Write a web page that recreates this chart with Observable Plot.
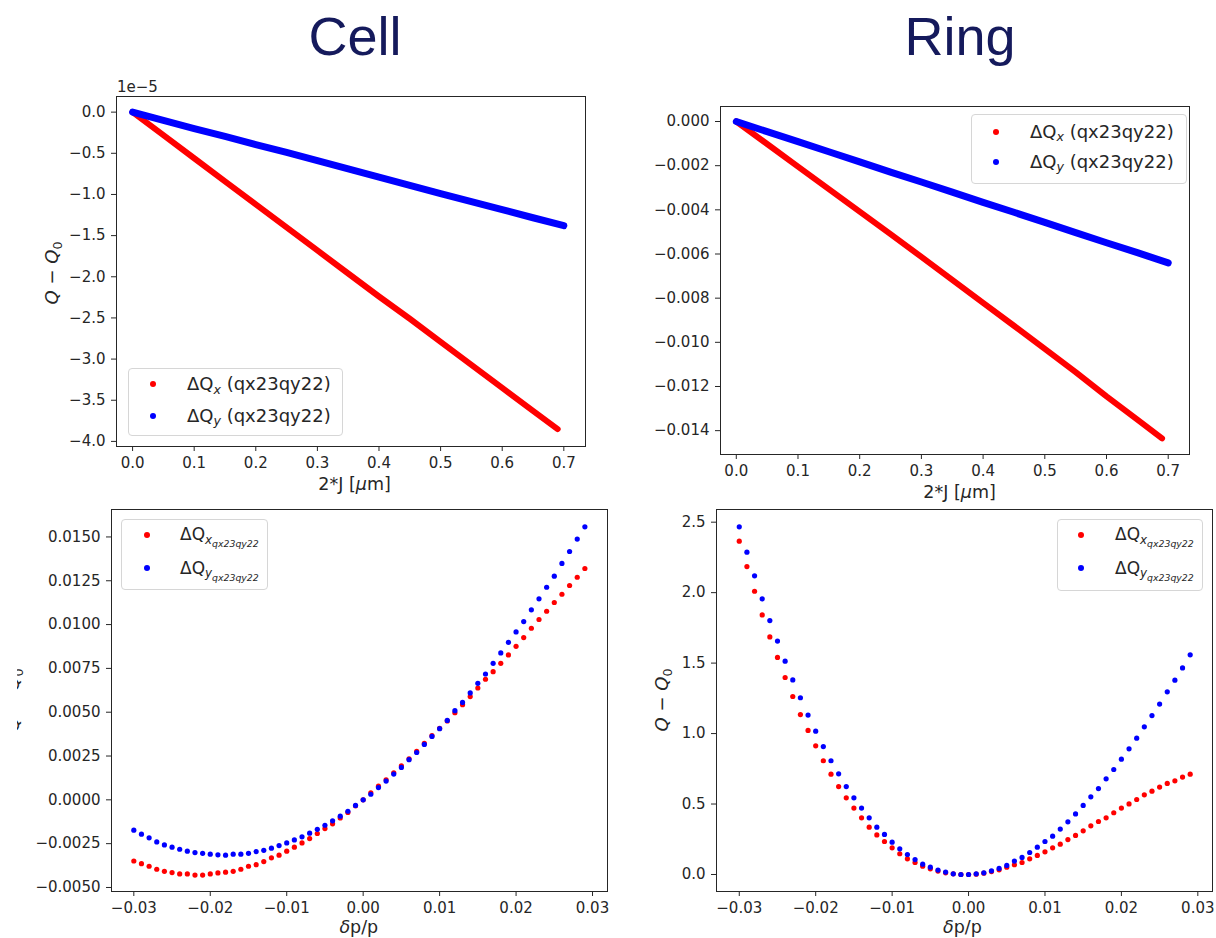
<!DOCTYPE html>
<html><head><meta charset="utf-8">
<script src="https://cdn.jsdelivr.net/npm/d3@7"></script>
<script src="https://cdn.jsdelivr.net/npm/@observablehq/plot@0.6"></script>
<style>
body{margin:0;background:#fff;}
#root{position:relative;width:1216px;height:938px;overflow:hidden;background:#fff;font-family:"DejaVu Sans",sans-serif;color:#262626;}
.panel{position:absolute;}
.panel svg{overflow:visible;background:transparent;}
.panel svg text{font-family:"DejaVu Sans",sans-serif;font-size:15px;fill:#262626;}
.t{position:absolute;white-space:nowrap;line-height:1;}
.c{transform:translate(-50%,-50%);}
.title{font-family:"Liberation Sans",Arial,sans-serif;font-size:54px;color:#151a5c;transform:translateX(-50%);}
.lab{font-size:17.5px;}
.ylab{transform:translate(-50%,-50%) rotate(-90deg);font-size:18px;}
.legend{position:absolute;border:1px solid #d6d6d6;border-radius:4px;background:rgba(255,255,255,0.85);box-sizing:border-box;}
.entry{position:absolute;white-space:nowrap;line-height:1;}
.dot{position:absolute;width:6px;height:6px;border-radius:50%;transform:translate(-50%,-50%);}
.s1{position:relative;top:0.3em;font-size:0.7em;font-style:italic;}
.s2{position:relative;top:0.75em;font-size:0.55em;font-style:italic;}
.clip{position:absolute;overflow:hidden;}
</style>
</head><body><div id="root"></div>
<script>
// ---------- data ----------
// Amplitude detuning, Cell (values in units of 1e-5)
const cellAmpJx = [0,0.05,0.1,0.15,0.2,0.25,0.3,0.35,0.4,0.45,0.5,0.55,0.6,0.65,0.69];
const cellAmpQx = [0,-0.28,-0.56,-0.84,-1.12,-1.40,-1.68,-1.96,-2.24,-2.51,-2.79,-3.07,-3.35,-3.63,-3.85];
const cellAmpJy = [0,0.05,0.1,0.15,0.2,0.25,0.3,0.35,0.4,0.45,0.5,0.55,0.6,0.65,0.7];
const cellAmpQy = [0,-0.10,-0.20,-0.295,-0.394,-0.49,-0.59,-0.69,-0.79,-0.89,-0.99,-1.087,-1.185,-1.283,-1.38];
// Amplitude detuning, Ring
const ringAmpJx = [0,0.05,0.1,0.15,0.2,0.25,0.3,0.35,0.4,0.45,0.5,0.55,0.6,0.65,0.69];
const ringAmpQx = [0,-0.00102,-0.00204,-0.00306,-0.00408,-0.0051,-0.00613,-0.00717,-0.00821,-0.00925,-0.0103,-0.01135,-0.01245,-0.0135,-0.01435];
const ringAmpJy = [0,0.05,0.1,0.15,0.2,0.25,0.3,0.35,0.4,0.45,0.5,0.55,0.6,0.65,0.7];
const ringAmpQy = [0,-0.00046,-0.00091,-0.00137,-0.00183,-0.00229,-0.00274,-0.0032,-0.00366,-0.00411,-0.00457,-0.00503,-0.00549,-0.00594,-0.0064];
// Chromatic detuning: momentum offsets
const dpp = [-0.030,-0.029,-0.028,-0.027,-0.026,-0.025,-0.024,-0.023,-0.022,-0.021,
  -0.020,-0.019,-0.018,-0.017,-0.016,-0.015,-0.014,-0.013,-0.012,-0.011,
  -0.010,-0.009,-0.008,-0.007,-0.006,-0.005,-0.004,-0.003,-0.002,-0.001,
  0.000,0.001,0.002,0.003,0.004,0.005,0.006,0.007,0.008,0.009,
  0.010,0.011,0.012,0.013,0.014,0.015,0.016,0.017,0.018,0.019,
  0.020,0.021,0.022,0.023,0.024,0.025,0.026,0.027,0.028,0.029];
const cellChromQx = [-0.00349,-0.00364,-0.00379,-0.00396,-0.00408,-0.00415,-0.00423,-0.00423,-0.00429,-0.00429,
  -0.00423,-0.00417,-0.00413,-0.00408,-0.00396,-0.00379,-0.00370,-0.00352,-0.00331,-0.00316,
  -0.00293,-0.00270,-0.00246,-0.00221,-0.00192,-0.00164,-0.00137,-0.00103,-0.00072,-0.00034,
  0,0.00040,0.00078,0.00114,0.00154,0.00194,0.00234,0.00276,0.00322,0.00366,
  0.00408,0.00450,0.00497,0.00543,0.00589,0.00638,0.00688,0.00731,0.00779,0.00827,
  0.00876,0.00926,0.00979,0.01029,0.01076,0.01126,0.01173,0.01223,0.01270,0.01320];
const cellChromQy = [-0.00173,-0.00196,-0.00217,-0.00240,-0.00257,-0.00270,-0.00282,-0.00293,-0.00301,-0.00305,
  -0.00310,-0.00314,-0.00316,-0.00310,-0.00310,-0.00305,-0.00295,-0.00288,-0.00276,-0.00261,
  -0.00246,-0.00229,-0.00211,-0.00190,-0.00168,-0.00145,-0.00120,-0.00093,-0.00065,-0.00032,
  0,0.00032,0.00070,0.00107,0.00147,0.00185,0.00229,0.00270,0.00316,0.00362,
  0.00406,0.00453,0.00509,0.00556,0.00610,0.00665,0.00718,0.00779,0.00838,0.00899,
  0.00958,0.01017,0.01084,0.01147,0.01213,0.01276,0.01349,0.01417,0.01488,0.01558];
const ringChromQx = [2.365,2.185,2.010,1.842,1.686,1.540,1.398,1.263,1.135,1.022,
  0.913,0.807,0.712,0.624,0.544,0.471,0.402,0.336,0.281,0.234,
  0.189,0.147,0.111,0.085,0.059,0.040,0.024,0.012,0.005,0.000,
  0.000,0.002,0.009,0.021,0.033,0.052,0.069,0.085,0.111,0.135,
  0.161,0.189,0.215,0.248,0.277,0.310,0.345,0.376,0.402,0.438,
  0.471,0.501,0.532,0.565,0.591,0.620,0.646,0.665,0.691,0.712];
const ringChromQy = [2.467,2.287,2.119,1.956,1.802,1.656,1.514,1.381,1.254,1.131,
  1.017,0.908,0.807,0.714,0.624,0.544,0.471,0.402,0.336,0.284,
  0.229,0.182,0.142,0.106,0.073,0.052,0.031,0.017,0.005,0.000,
  0.000,0.005,0.012,0.026,0.043,0.064,0.095,0.121,0.156,0.194,
  0.234,0.272,0.322,0.374,0.430,0.490,0.551,0.610,0.679,0.745,
  0.818,0.892,0.967,1.048,1.128,1.209,1.296,1.379,1.466,1.559];
// Tick values
const ampXTicks = [0,0.1,0.2,0.3,0.4,0.5,0.6,0.7];
const cellAmpYTicks = [0,-0.5,-1.0,-1.5,-2.0,-2.5,-3.0,-3.5,-4.0];
const ringAmpYTicks = [0,-0.002,-0.004,-0.006,-0.008,-0.010,-0.012,-0.014];
const chromXTicks = [-0.03,-0.02,-0.01,0,0.01,0.02,0.03];
const cellChromYTicks = [-0.005,-0.0025,0,0.0025,0.005,0.0075,0.01,0.0125,0.015];
const ringChromYTicks = [0,0.5,1.0,1.5,2.0,2.5];

const RED = "#ff0000", BLUE = "#0000ff";
const root = document.getElementById("root");

function zip(xs, ys){ return xs.map((x,i)=>({x, y: ys[i]})); }

function panel(box, m, xs, ys, marks){
  const svg = Plot.plot({
    width: box.w, height: box.h,
    marginLeft: m[0], marginRight: m[1], marginTop: m[2], marginBottom: m[3],
    style: {background: "transparent", color: "#262626", fontFamily: "DejaVu Sans", fontSize: "15px", overflow: "visible"},
    x: Object.assign({label: null, tickSize: 5, tickPadding: 6}, xs),
    y: Object.assign({label: null, tickSize: 5, tickPadding: 6}, ys),
    marks: [Plot.frame({stroke: "#262626", strokeWidth: 1}), ...marks]
  });
  const d = document.createElement("div");
  d.className = "panel";
  d.style.left = box.l + "px"; d.style.top = box.t + "px";
  d.appendChild(svg);
  root.appendChild(d);
}

// Top-left: Cell amplitude detuning
panel({l:0,t:70,w:600,h:430},[116,15,26,54],
  {domain:[-0.0261,0.7352], ticks: ampXTicks, tickFormat: d3.format(".1f")},
  {domain:[-4.062,0.19], ticks: cellAmpYTicks, tickFormat: d3.format(".1f")},
  [Plot.line(zip(cellAmpJx,cellAmpQx),{x:"x",y:"y",stroke:RED,strokeWidth:6,strokeLinecap:"round",strokeLinejoin:"round"}),
   Plot.line(zip(cellAmpJy,cellAmpQy),{x:"x",y:"y",stroke:BLUE,strokeWidth:7,strokeLinecap:"round",strokeLinejoin:"round"})]);

// Top-right: Ring amplitude detuning
panel({l:600,t:90,w:616,h:418},[120,27,16,54],
  {domain:[-0.0256,0.7345], ticks: ampXTicks, tickFormat: d3.format(".1f")},
  {domain:[-0.01508,0.00068], ticks: ringAmpYTicks, tickFormat: d3.format(".3f")},
  [Plot.line(zip(ringAmpJx,ringAmpQx),{x:"x",y:"y",stroke:RED,strokeWidth:6,strokeLinecap:"round",strokeLinejoin:"round"}),
   Plot.line(zip(ringAmpJy,ringAmpQy),{x:"x",y:"y",stroke:BLUE,strokeWidth:7,strokeLinecap:"round",strokeLinejoin:"round"})]);

// Bottom-left: Cell chromatic detuning
panel({l:0,t:500,w:612,h:438},[111,5,9,47],
  {domain:[-0.03292,0.03196], ticks: chromXTicks, tickFormat: d3.format(".2f")},
  {domain:[-0.00523,0.016566], ticks: cellChromYTicks, tickFormat: d3.format(".4f")},
  [Plot.dot(zip(dpp,cellChromQx),{x:"x",y:"y",r:2.6,fill:RED}),
   Plot.dot(zip(dpp,cellChromQy),{x:"x",y:"y",r:2.6,fill:BLUE})]);

// Bottom-right: Ring chromatic detuning
panel({l:612,t:500,w:604,h:438},[104,4,9,47],
  {domain:[-0.03298,0.03192], ticks: chromXTicks, tickFormat: d3.format(".2f")},
  {domain:[-0.1207,2.590], ticks: ringChromYTicks, tickFormat: d3.format(".1f")},
  [Plot.dot(zip(dpp,ringChromQx),{x:"x",y:"y",r:2.6,fill:RED}),
   Plot.dot(zip(dpp,ringChromQy),{x:"x",y:"y",r:2.6,fill:BLUE})]);

// ---------- text ----------
function add(html, cls, x, y, extra){
  const d = document.createElement("div");
  d.className = "t " + cls;
  d.style.left = x + "px"; d.style.top = y + "px";
  if (extra) Object.assign(d.style, extra);
  d.innerHTML = html;
  root.appendChild(d);
  return d;
}
add("Cell", "title", 355, 9);
add("Ring", "title", 960, 9);
add("1e\u22125", "", 117, 80, {fontSize:"15px"});
const xlabAmp = '2*J [<i>\u03bc</i>m]';
const xlabChrom = '<i>\u03b4</i>p/p';
const ylab = '<i>Q</i> \u2212 <i>Q</i><span style="position:relative;top:0.3em;font-size:0.7em">0</span>';
add(xlabAmp, "lab c", 354.6, 485);
add(xlabAmp, "lab c", 959.6, 493);
add(xlabChrom, "lab c", 358.8, 928);
add(xlabChrom, "lab c", 962.4, 928);
add(ylab, "ylab", 52, 273);
add(ylab, "ylab", 662, 700);
// clipped remnant of the bottom-left y label (cut off in the original layout)
const clip = document.createElement("div");
clip.className = "clip";
Object.assign(clip.style, {left:"17px", top:"620px", width:"7px", height:"160px"});
root.appendChild(clip);
const rem = document.createElement("div");
rem.className = "t ylab";
rem.style.left = "-4px"; rem.style.top = "80px";
rem.innerHTML = ylab;
clip.appendChild(rem);

// ---------- legends ----------
function legend(box, dots, textX, labels, fs){
  const b = document.createElement("div");
  b.className = "legend";
  Object.assign(b.style, {left: box[0]+"px", top: box[1]+"px", width: box[2]+"px", height: box[3]+"px"});
  root.appendChild(b);
  [RED, BLUE].forEach((c,i)=>{
    const d = document.createElement("div");
    d.className = "dot";
    Object.assign(d.style, {left: dots[0]+"px", top: dots[1+i]+"px", background: c});
    root.appendChild(d);
    const e = document.createElement("div");
    e.className = "entry";
    Object.assign(e.style, {left: textX+"px", top: (dots[1+i]-fs*0.5)+"px", fontSize: fs+"px"});
    e.innerHTML = labels[i];
    root.appendChild(e);
  });
}
const ampLabels = ['\u0394Q<span class="s1">x</span> (qx23qy22)', '\u0394Q<span class="s1">y</span> (qx23qy22)'];
const chromLabels = ['\u0394Q<span class="s1">x</span><span class="s2">qx23qy22</span>', '\u0394Q<span class="s1">y</span><span class="s2">qx23qy22</span>'];
legend([128,368,215,68],[153,384,415.7],187,ampLabels,18);
legend([971,114,216,70],[996,131.7,161.7],1030,ampLabels,18);
legend([121,519,147,71],[146.6,534.7,568],180,chromLabels,17);
legend([1057,519,146,72],[1081.4,534.7,568],1115,chromLabels,17);
</script>
</body></html>
